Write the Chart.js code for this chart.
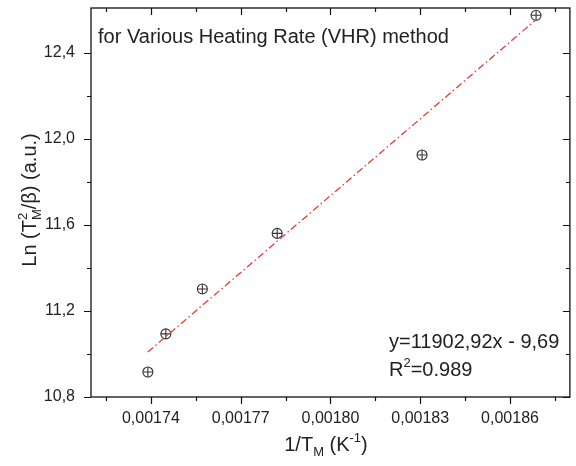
<!DOCTYPE html>
<html>
<head>
<meta charset="utf-8">
<script src="https://cdn.jsdelivr.net/npm/chart.js@4.4.1/dist/chart.umd.min.js"></script>
<style>
html,body{margin:0;padding:0;background:#fff;}
#wrap{width:576px;height:466px;}
</style>
</head>
<body>
<div id="wrap"><canvas id="c" width="576" height="466"></canvas></div>
<script>
// ---- data ----
const invT  = [0.001739, 0.001745, 0.0017572, 0.0017822, 0.0018306, 0.0018687];
const lnVal = [10.916, 11.093, 11.302, 11.560, 11.924, 12.573];
const fitX  = [0.001739, 0.0018687];
const fitY  = [11.009, 12.553];
const xTickVals   = [0.00174, 0.00177, 0.00180, 0.00183, 0.00186];
const xTickLabels = ['0,00174', '0,00177', '0,00180', '0,00183', '0,00186'];
const xMinorVals  = [0.001725, 0.001755, 0.001785, 0.001815, 0.001845, 0.001875];
const yTickVals   = [10.8, 11.2, 11.6, 12.0, 12.4];
const yTickLabels = ['10,8', '11,2', '11,6', '12,0', '12,4'];
const yMinorVals  = [11.0, 11.4, 11.8, 12.2];
const noteText = 'for Various Heating Rate (VHR) method';
const eqText   = 'y=11902,92x - 9,69';

const FONT = '"Liberation Sans", Arial, sans-serif';
const TXT = '#222';

const framePlugin = {
  id: 'frame',
  afterDraw(chart) {
    const ctx = chart.ctx, a = chart.chartArea;
    const xs = chart.scales.x, ys = chart.scales.y;
    ctx.save();
    ctx.strokeStyle = '#111';
    ctx.lineWidth = 1.3;
    ctx.strokeRect(a.left, a.top, a.right - a.left, a.bottom - a.top);
    ctx.lineWidth = 1.2;
    const MAJ = 7, MIN = 4;
    ctx.beginPath();
    const vx = (v, len) => {
      const p = Math.round(xs.getPixelForValue(v)) + 0.5;
      ctx.moveTo(p, a.bottom); ctx.lineTo(p, a.bottom + len);
      ctx.moveTo(p, a.top); ctx.lineTo(p, a.top + len);
    };
    const hy = (v, len) => {
      const p = Math.round(ys.getPixelForValue(v)) + 0.5;
      ctx.moveTo(a.left, p); ctx.lineTo(a.left - len, p);
      ctx.moveTo(a.right, p); ctx.lineTo(a.right - len, p);
    };
    xTickVals.forEach(v => vx(v, MAJ));
    xMinorVals.forEach(v => vx(v, MIN));
    yTickVals.forEach(v => hy(v, MAJ));
    yMinorVals.forEach(v => hy(v, MIN));
    ctx.stroke();

    // annotations
    ctx.fillStyle = TXT;
    ctx.textBaseline = 'alphabetic';
    ctx.textAlign = 'left';
    ctx.font = '20px ' + FONT;
    ctx.fillText(noteText, 98, 43);
    ctx.fillText(eqText, 389, 348);
    // R^2=0.989
    let x = 389;
    ctx.fillText('R', x, 376); x += ctx.measureText('R').width;
    ctx.font = '13px ' + FONT;
    ctx.fillText('2', x, 367); x += ctx.measureText('2').width;
    ctx.font = '20px ' + FONT;
    ctx.fillText('=0.989', x, 376);

    // x axis title: 1/T_M (K^-1)
    const parts = [
      {t: '1/T', s: 20, dy: 0},
      {t: 'M', s: 13, dy: 5},
      {t: ' (K', s: 20, dy: 0},
      {t: '-1', s: 13, dy: -9},
      {t: ')', s: 20, dy: 0}
    ];
    let tw = 0;
    parts.forEach(p => { ctx.font = p.s + 'px ' + FONT; p.w = ctx.measureText(p.t).width; tw += p.w; });
    x = 326 - tw / 2;
    parts.forEach(p => { ctx.font = p.s + 'px ' + FONT; ctx.fillText(p.t, x, 451 + p.dy); x += p.w; });

    // y axis title: Ln (T^2_M/β) (a.u.)
    ctx.translate(36, 200);
    ctx.rotate(-Math.PI / 2);
    ctx.font = '20px ' + FONT;
    const a1 = 'Ln (T', a2 = '/\u03B2) (a.u.)';
    const w1 = ctx.measureText(a1).width, w3 = ctx.measureText(a2).width;
    ctx.font = '13px ' + FONT;
    const w2 = Math.max(ctx.measureText('2').width, ctx.measureText('M').width);
    let yx = -(w1 + w2 + w3) / 2;
    ctx.font = '20px ' + FONT;
    ctx.fillText(a1, yx, 0); yx += w1;
    ctx.font = '13px ' + FONT;
    ctx.fillText('2', yx, -9);
    ctx.fillText('M', yx, 5); yx += w2;
    ctx.font = '20px ' + FONT;
    ctx.fillText(a2, yx, 0);
    ctx.restore();
  }
};

const pts = invT.map((v, i) => ({x: v, y: lnVal[i]}));
new Chart(document.getElementById('c'), {
  type: 'scatter',
  data: {
    datasets: [
      {
        type: 'line',
        data: fitX.map((v, i) => ({x: v, y: fitY[i]})),
        borderColor: '#e63a36',
        borderWidth: 1.3,
        borderDash: [7, 3, 1.5, 3],
        pointRadius: 0,
        fill: false
      },
      {
        data: pts,
        pointStyle: 'circle',
        pointRadius: 5,
        borderColor: '#333',
        backgroundColor: 'rgba(0,0,0,0)',
        borderWidth: 1.1
      },
      {
        data: pts,
        pointStyle: 'cross',
        pointRadius: 5,
        borderColor: '#333',
        borderWidth: 1.1
      }
    ]
  },
  options: {
    responsive: false,
    animation: false,
    events: [],
    layout: {padding: {top: 8, right: 4, left: 0, bottom: 0}},
    plugins: {legend: {display: false}, tooltip: {enabled: false}},
    scales: {
      x: {
        type: 'linear',
        min: 0.00172, max: 0.00188,
        grid: {display: false, drawTicks: false},
        border: {display: false},
        afterBuildTicks: s => { s.ticks = xTickVals.map(v => ({value: v})); },
        afterFit: s => { s.height = 69; s.paddingLeft = 0; s.paddingRight = 0; },
        ticks: {
          font: {size: 16, family: FONT},
          color: TXT,
          padding: 12,
          maxRotation: 0,
          autoSkip: false,
          callback: (v, i) => xTickLabels[i]
        }
      },
      y: {
        type: 'linear',
        min: 10.8, max: 12.607,
        grid: {display: false, drawTicks: false},
        border: {display: false},
        afterBuildTicks: s => { s.ticks = yTickVals.map(v => ({value: v})); },
        afterFit: s => { s.width = 91; s.paddingTop = 0; s.paddingBottom = 0; },
        ticks: {
          font: {size: 16, family: FONT},
          color: TXT,
          padding: 16,
          autoSkip: false,
          callback: (v, i) => yTickLabels[i]
        }
      }
    }
  },
  plugins: [framePlugin]
});
</script>
</body>
</html>
